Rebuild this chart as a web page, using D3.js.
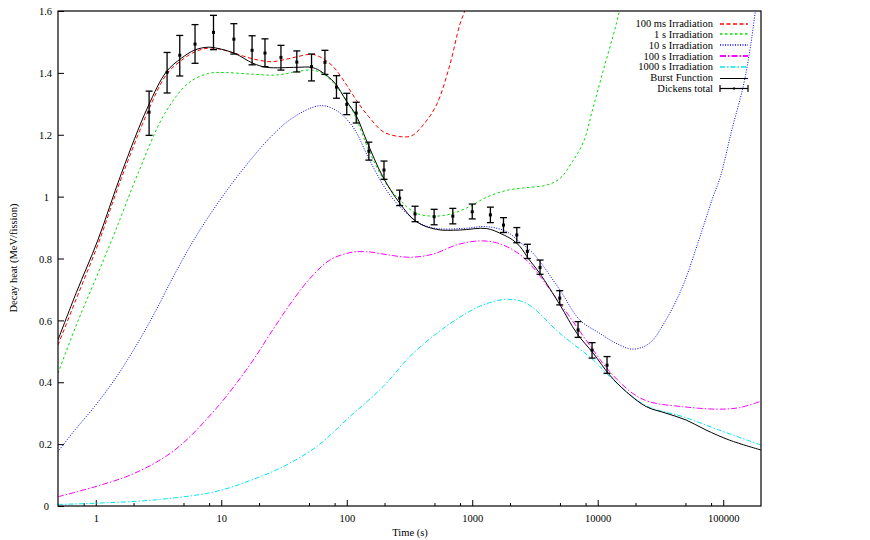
<!DOCTYPE html>
<html>
<head>
<meta charset="utf-8">
<script src="https://cdn.jsdelivr.net/npm/d3@7"></script>
<style>
  html, body { margin: 0; padding: 0; background: #fff; }
  svg { display: block; }
  text { font-family: "Liberation Serif", "Times New Roman", serif; fill: #000; }
</style>
</head>
<body>
<svg id="chart" width="870" height="540"></svg>
<script>
// ---- data (time in s, decay heat in MeV/fission) ----
const irr100ms = [[0.5,0.52],[0.7,0.67],[1.04,0.845],[1.6,1.06],[2.6,1.275],[3.66,1.395],[4.8,1.44],[6.15,1.468],[7.87,1.48],[10,1.476],[13,1.462],[18,1.445],[25,1.436],[32,1.443],[40,1.452],[52,1.46],[61,1.452],[78,1.42],[100,1.36],[120,1.31],[150,1.258],[195,1.21],[265,1.194],[330,1.197],[405,1.231],[518,1.296],[662,1.425],[794,1.555],[870,1.6],[950,1.66]];
const irr1s = [[0.5,0.429],[0.7,0.585],[1.0,0.735],[1.42,0.885],[2.17,1.075],[3.55,1.269],[5.44,1.366],[7.87,1.398],[10.7,1.401],[17.4,1.396],[27.5,1.393],[39.8,1.404],[52.3,1.409],[64.6,1.398],[83,1.355],[112,1.275],[150,1.15],[200,1.05],[265,0.989],[359,0.946],[519,0.937],[703,0.946],[955,0.968],[1300,0.998],[1870,1.02],[2700,1.029],[3900,1.037],[5000,1.059],[6280,1.113],[7700,1.177],[9150,1.285],[11000,1.404],[13300,1.522],[14900,1.6],[16000,1.66]];
const irr10s = [[0.5,0.176],[0.68,0.245],[0.98,0.322],[1.42,0.41],[2.04,0.51],[2.95,0.625],[4.26,0.75],[6.15,0.865],[10,0.995],[15,1.09],[24.4,1.19],[37.2,1.255],[61,1.294],[83,1.278],[112,1.225],[152,1.118],[207,1.021],[281,0.957],[380,0.914],[518,0.897],[846,0.897],[1300,0.903],[1870,0.887],[2410,0.852],[3050,0.817],[5000,0.698],[7200,0.601],[10400,0.558],[14000,0.526],[19000,0.507],[25800,0.526],[34900,0.601],[47400,0.709],[64000,0.86],[81500,0.99],[95000,1.065],[117000,1.215],[145000,1.36],[164000,1.479],[180000,1.598],[200000,1.74]];
const irr100s = [[0.5,0.03],[0.98,0.062],[2.04,0.106],[4.26,0.181],[8.87,0.31],[16.9,0.456],[24.4,0.555],[35,0.65],[50.8,0.735],[73.3,0.795],[106,0.819],[144,0.822],[219,0.811],[318,0.804],[486,0.814],[750,0.844],[1140,0.857],[1560,0.851],[2000,0.833],[2700,0.795],[5000,0.655],[9200,0.504],[12470,0.434],[19000,0.364],[25800,0.337],[47400,0.321],[92000,0.313],[135000,0.318],[200000,0.339]];
const irr1000s = [[0.5,0.005],[1,0.009],[3,0.02],[8.87,0.046],[16.9,0.082],[31,0.127],[57.5,0.192],[106,0.289],[195,0.386],[318,0.483],[520,0.558],[846,0.617],[1220,0.65],[1870,0.668],[2700,0.655],[5000,0.558],[9200,0.472],[12470,0.418],[19000,0.353],[25800,0.319],[47400,0.289],[92000,0.246],[200000,0.197]];
const burst = [[0.5,0.537],[0.7,0.69],[1.04,0.86],[1.6,1.075],[2.6,1.29],[3.66,1.404],[4.8,1.447],[6.15,1.474],[7.87,1.483],[9.4,1.479],[12.8,1.463],[17.9,1.431],[23,1.418],[40,1.418],[52,1.418],[61,1.407],[80,1.368],[99,1.31],[119,1.262],[143,1.183],[194,1.064],[265,0.978],[359,0.919],[519,0.894],[794,0.892],[1297,0.897],[1700,0.88],[2100,0.86],[2410,0.838],[2800,0.80],[3450,0.752],[5000,0.65],[6820,0.558],[9200,0.494],[12470,0.423],[16900,0.369],[24400,0.321],[35000,0.30],[50600,0.278],[72600,0.246],[112000,0.213],[200000,0.181]];

const dickensTime  = [2.66,3.7,4.67,6.18,8.67,12.6,17.6,22.3,29.9,40,52.4,67,82.8,100,119,150,198,264,350,497,700,1000,1395,1774,2265,2750,3470,4980,6970,9010,11860];
const dickensValue = [1.273,1.402,1.457,1.493,1.531,1.509,1.473,1.464,1.45,1.435,1.42,1.434,1.354,1.298,1.27,1.147,1.086,0.995,0.944,0.935,0.937,0.951,0.941,0.908,0.876,0.823,0.771,0.672,0.569,0.504,0.455];
const dickensLow   = [1.198,1.335,1.39,1.431,1.475,1.461,1.426,1.42,1.409,1.403,1.374,1.395,1.318,1.265,1.238,1.118,1.056,0.971,0.919,0.909,0.912,0.928,0.916,0.884,0.851,0.8,0.749,0.65,0.545,0.478,0.429];
const dickensHigh  = [1.341,1.466,1.521,1.556,1.586,1.559,1.52,1.51,1.489,1.471,1.461,1.473,1.391,1.334,1.305,1.176,1.115,1.021,0.969,0.959,0.962,0.976,0.966,0.932,0.9,0.846,0.795,0.696,0.596,0.528,0.483];

const seriesNames = ["100 ms Irradiation","1 s Irradiation","10 s Irradiation","100 s Irradiation","1000 s Irradiation","Burst Function","Dickens total"];
const xMajorTicks = [1,10,100,1000,10000,100000];
const yTicks = [0,0.2,0.4,0.6,0.8,1,1.2,1.4,1.6];

// ---- layout ----
const L = 58, R = 761, T = 11, B = 506;
const svg = d3.select("#chart");
const x = d3.scaleLog().domain([0.5, 2e5]).range([L, R]);
const y = d3.scaleLinear().domain([0, 1.6]).range([B, T]);

svg.append("defs").append("clipPath").attr("id","clip")
  .append("rect").attr("x",L).attr("y",T).attr("width",R-L).attr("height",B-T);

// minor x ticks at 2,5,8 per decade
const xMinor = [];
for (let e = -1; e <= 5; e++) [2,5,8].forEach(m => { const v = m*Math.pow(10,e); if (v > 0.5 && v < 2e5) xMinor.push(v); });

// axes
const gx = svg.append("g").attr("transform",`translate(0,${B})`)
  .call(d3.axisBottom(x).tickValues(xMajorTicks).tickSize(-6).tickPadding(9).tickFormat(d3.format("d")));
const gxm = svg.append("g").attr("transform",`translate(0,${B})`)
  .call(d3.axisBottom(x).tickValues(xMinor).tickSize(-3).tickFormat(""));
const gy = svg.append("g").attr("transform",`translate(${L},0)`)
  .call(d3.axisLeft(y).tickValues(yTicks).tickSize(-6).tickPadding(6)
    .tickFormat(d => (d === 0 || d === 1) ? String(d) : d.toFixed(1)));
[gx,gxm,gy].forEach(g => {
  g.select(".domain").remove();
  g.selectAll("line").attr("stroke","#000").attr("stroke-width",1);
  g.selectAll("text").style("font-family",'"Liberation Serif", serif').style("font-size","10.5px").attr("fill","#000");
});
gy.selectAll(".tick text").attr("dy","0.35em")
  .attr("x", d => (d === 0 || d === 1) ? -9 : -6);

// axis titles
svg.append("text").attr("x",410).attr("y",536).attr("text-anchor","middle")
  .style("font-size","10.5px").text("Time (s)");
svg.append("text").attr("transform","translate(17,258) rotate(-90)").attr("text-anchor","middle")
  .style("font-size","10.5px").text("Decay heat (MeV/fission)");

// curves
const line = d3.line().x(d => x(d[0])).y(d => y(d[1])).curve(d3.curveCatmullRom.alpha(0.5));
const styles = [
  {data: irr100ms, color:"#ff0000", dash:"4,2.5"},
  {data: irr1s,    color:"#00e000", dash:"2.5,2.5"},
  {data: irr10s,   color:"#0000ff", dash:"1,1.5"},
  {data: irr100s,  color:"#ff00ff", dash:"6,2,1.5,2"},
  {data: irr1000s, color:"#00e8e8", dash:"5,2,1.5,2"},
  {data: burst,    color:"#000000", dash:null}
];
const gc = svg.append("g").attr("clip-path","url(#clip)");
styles.forEach(s => {
  gc.append("path").attr("d", line(s.data)).attr("fill","none")
    .attr("stroke", s.color).attr("stroke-width", 1)
    .attr("stroke-dasharray", s.dash);
});

// Dickens error bars
const gd = svg.append("g");
dickensTime.forEach((t,i) => {
  const cx = x(t);
  gd.append("line").attr("x1",cx).attr("x2",cx).attr("y1",y(dickensLow[i])).attr("y2",y(dickensHigh[i]))
    .attr("stroke","#000").attr("stroke-width",1.3);
  [dickensLow[i], dickensHigh[i]].forEach(v => {
    gd.append("line").attr("x1",cx-3.5).attr("x2",cx+3.5).attr("y1",y(v)).attr("y2",y(v))
      .attr("stroke","#000").attr("stroke-width",1.3);
  });
  gd.append("rect").attr("x",cx-1.5).attr("y",y(dickensValue[i])-1.5).attr("width",3).attr("height",3).attr("fill","#000");
});

// legend
const legX = 713, sx1 = 720, sx2 = 748, ly0 = 23.5, ldy = 10.8;
seriesNames.forEach((name,i) => {
  const ly = ly0 + i*ldy;
  const lyc = Math.round(ly);
  svg.append("text").attr("x",legX).attr("y",ly).attr("dy","0.35em").attr("text-anchor","end")
    .style("font-size","10.5px").text(name);
  if (i < styles.length) {
    const yy = (i === 5) ? lyc + 0.5 : lyc;
    svg.append("line").attr("x1",sx1).attr("x2",sx2).attr("y1",yy).attr("y2",yy)
      .attr("stroke",styles[i].color).attr("stroke-width", i===3 ? 2 : (i===5 ? 1 : 1.6))
      .attr("stroke-dasharray",styles[i].dash);
  } else {
    svg.append("line").attr("x1",sx1).attr("x2",sx2).attr("y1",lyc+0.5).attr("y2",lyc+0.5).attr("stroke","#000").attr("stroke-width",1.2);
    [sx1,sx2].forEach(xx => svg.append("line").attr("x1",xx).attr("x2",xx).attr("y1",lyc-3).attr("y2",lyc+4).attr("stroke","#000").attr("stroke-width",1.2));
    svg.append("rect").attr("x",(sx1+sx2)/2-1).attr("y",lyc-0.5).attr("width",2).attr("height",2).attr("fill","#000");
  }
});

// border
svg.append("rect").attr("x",L).attr("y",T).attr("width",R-L).attr("height",B-T)
  .attr("fill","none").attr("stroke","#000").attr("stroke-width",1.2);
</script>
</body>
</html>
